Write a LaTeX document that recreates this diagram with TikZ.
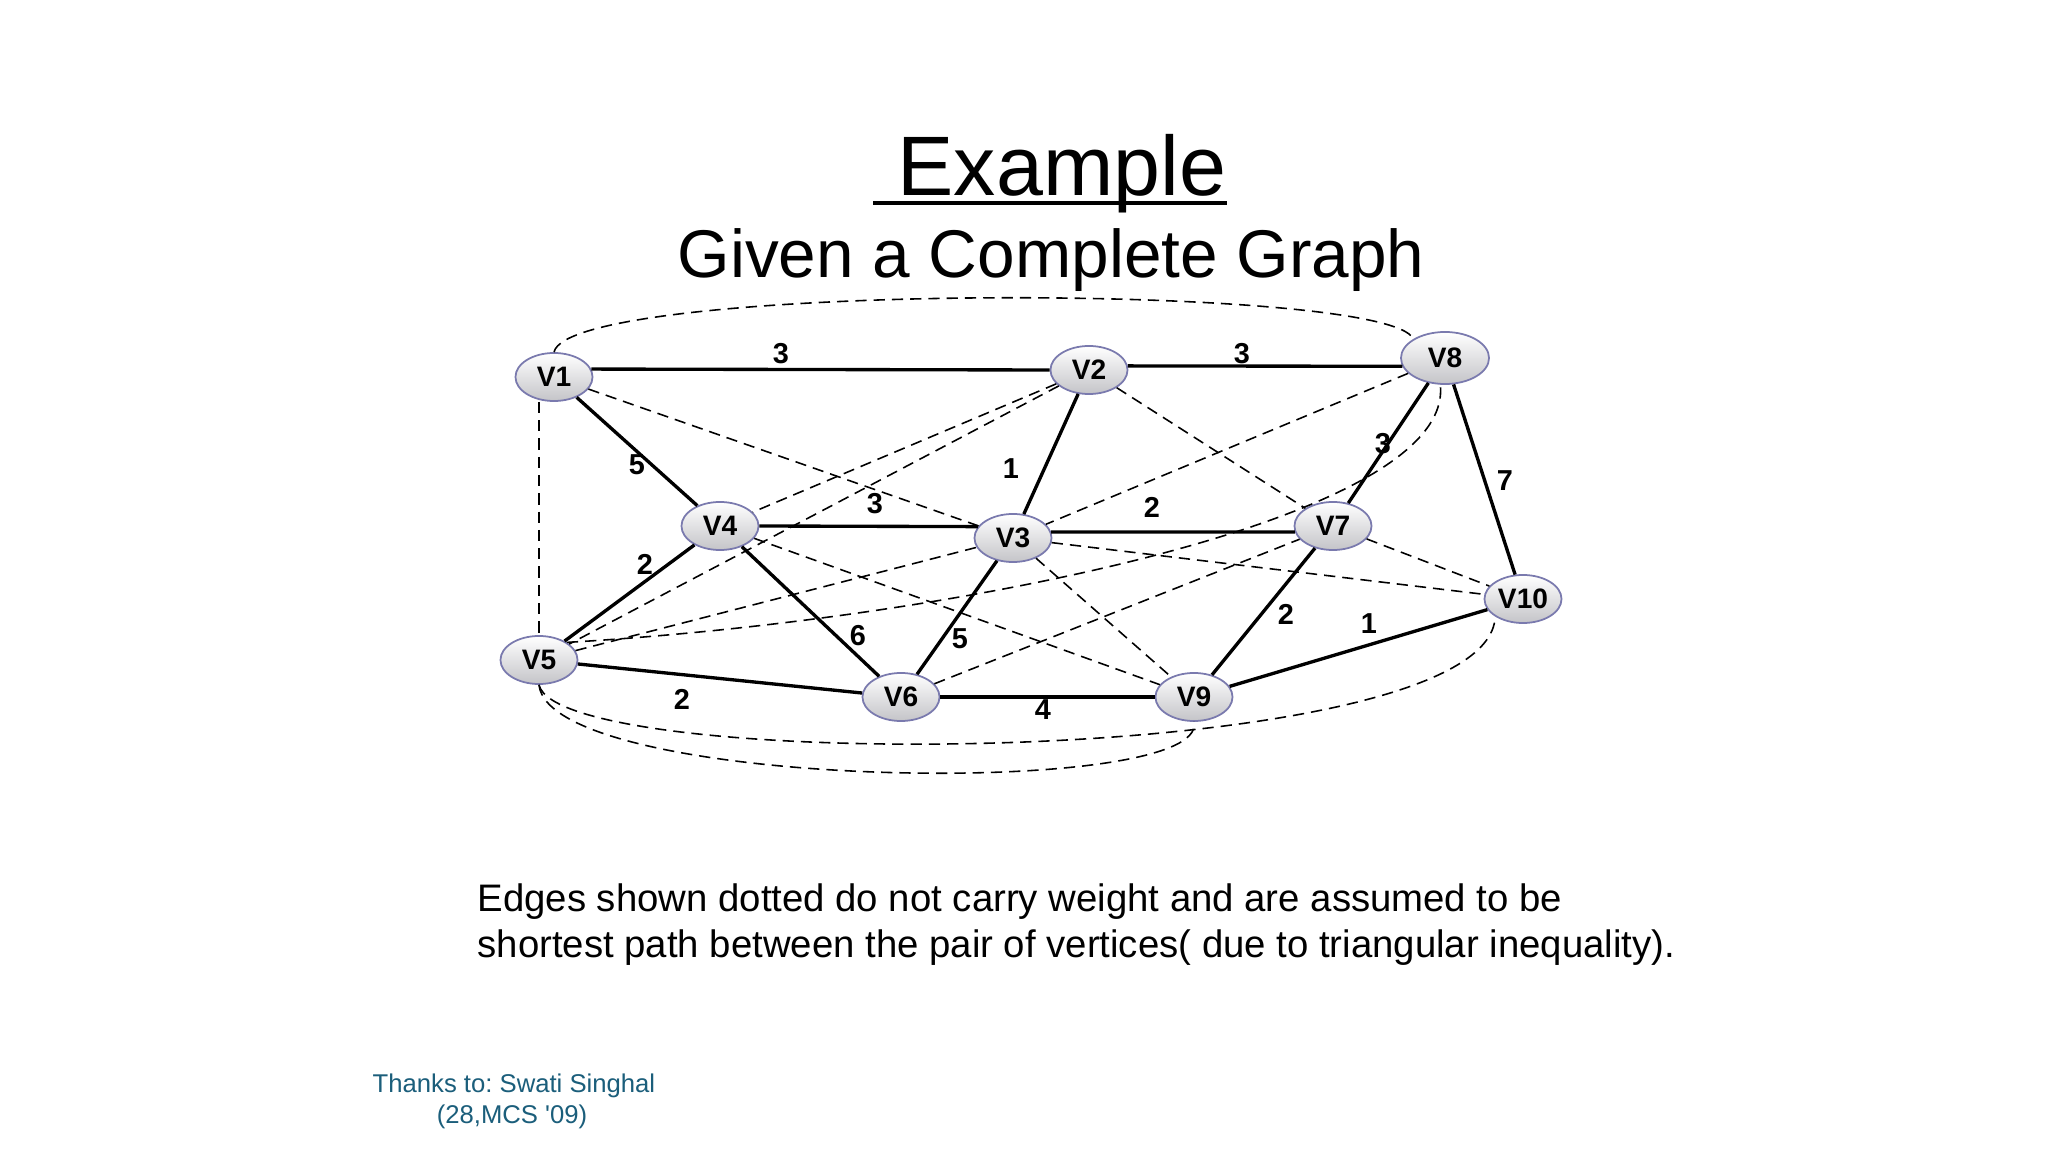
\documentclass[tikz,border=0pt]{standalone}
\usepackage{fontspec}
\setmainfont{Liberation Sans}
\usepackage{tikz}
\usetikzlibrary{shapes.geometric, positioning}
\definecolor{vxborder}{HTML}{7A7AAE}
\definecolor{vxshade}{HTML}{C4C4C8}
\definecolor{thxteal}{HTML}{1B5E7B}

\begin{document}
\begin{tikzpicture}[x=0.01cm, y=-0.01cm,
  vtx/.style={ellipse, draw=vxborder, line width=0.5pt, top color=white, bottom color=vxshade,
    minimum width=0.77cm, minimum height=0.48cm, inner sep=0pt, font=\bfseries\fontsize{8}{9}\selectfont},
  wt/.style={inner sep=0pt, font=\bfseries\fontsize{8.2}{9}\selectfont},
  wedge/.style={line width=0.95pt},
  dedge/.style={line width=0.45pt, dash pattern=on 3.2pt off 2pt},
  txt/.style={inner sep=0pt, font=\fontsize{#1}{#1}\selectfont},
  thx/.style={inner sep=0pt, text=thxteal, font=\fontsize{7.3}{8.8}\selectfont\frenchspacing},
]
  \fill[white] (0,0) rectangle (2048,1152);
  \useasboundingbox (0,0) rectangle (2048,1152);

  \node[txt=24, anchor=base] (title) at (1050,196) {\hspace{0.28em}Example};
  \draw[line width=1.1pt] ([yshift=-2pt]title.base west) -- ([yshift=-2pt]title.base east);
  \node[txt=19.2, anchor=base] (subtitle) at (1051,278) {Given a Complete Graph};

  \node[vtx] (V1) at (554,377) {V1};
  \node[vtx] (V2) at (1089,370) {V2};
  \node[vtx, minimum width=0.88cm, minimum height=0.52cm] (V8) at (1445,358) {V8};
  \node[vtx] (V4) at (720,526) {V4};
  \node[vtx] (V3) at (1013,538) {V3};
  \node[vtx] (V7) at (1333,526) {V7};
  \node[vtx] (V10) at (1523,599) {V10};
  \node[vtx] (V5) at (539,660) {V5};
  \node[vtx] (V6) at (901,697) {V6};
  \node[vtx] (V9) at (1194,697) {V9};

  \draw[wedge] (V1.12) -- (V2.west);
  \draw[wedge] (V2.6) -- (V8.191);
  \draw[wedge] (V1) -- (V4);
  \draw[wedge] (V2) -- (V3);
  \draw[wedge] (V4.east) -- (V3.162);
  \draw[wedge] (V3.9) -- (V7.189);
  \draw[wedge] (V8) -- (V7);
  \draw[wedge] (V8) -- (V10);
  \draw[wedge] (V4) -- (V5);
  \draw[wedge] (V4) -- (V6);
  \draw[wedge] (V3) -- (V6);
  \draw[wedge] (V7) -- (V9);
  \draw[wedge] (V9) -- (V10);
  \draw[wedge] (V5) -- (V6);
  \draw[wedge] (V6) -- (V9);

  \draw[dedge] (V1.south -| V5.north) -- (V5.north);
  \draw[dedge] (V1) -- (V3);
  \draw[dedge] (V2) -- (V4);
  \draw[dedge] (V2) -- (V5);
  \draw[dedge] (V2) -- (V7);
  \draw[dedge] (V8) -- (V3);
  \draw[dedge] (V5) -- (V3);
  \draw[dedge] (V3) -- (V10);
  \draw[dedge] (V7) -- (V10);
  \draw[dedge] (V3) -- (V9);
  \draw[dedge] (V4) -- (V9);
  \draw[dedge] (V6) -- (V7);
  \draw[dedge] (V1.north) .. controls (570,282) and (1390,282) .. (V8.north west);
  \draw[dedge] (V5.north east) .. controls (950,620) and (1455,520) .. (V8.-100);
  \draw[dedge] (V5.south) .. controls (560,775) and (1490,770) .. (V10.south west);
  \draw[dedge] (V5.south) .. controls (550,790) and (1210,800) .. (V9.south);

  \node[wt] (w12) at (781,354) {3};
  \node[wt] (w28) at (1242,354) {3};
  \node[wt] (w14) at (637,465) {5};
  \node[wt] (w23) at (1011,469) {1};
  \node[wt] (w43) at (875,504) {3};
  \node[wt] (w37) at (1152,507) {2};
  \node[wt] (w87) at (1383,444) {3};
  \node[wt] (w810) at (1505,481) {7};
  \node[wt] (w45) at (645,564) {2};
  \node[wt] (w46) at (858,636) {6};
  \node[wt] (w36) at (960,639) {5};
  \node[wt] (w79) at (1286,614) {2};
  \node[wt] (w910) at (1369,624) {1};
  \node[wt] (w56) at (682,699) {2};
  \node[wt] (w69) at (1043,710) {4};

  \node[txt=10.9, anchor=base west] (note1) at (477,911) {Edges shown dotted do not carry weight and are assumed to be};
  \node[txt=10.9, anchor=base west] (note2) at (477,957) {shortest path between the pair of vertices( due to triangular inequality).};

  \node[thx, anchor=base west] (thx1) at (372,1092) {Thanks to: Swati Singhal};
  \node[thx, anchor=base] (thx2) at (512,1123) {(28,MCS \textquotesingle 09)};
\end{tikzpicture}
\end{document}
